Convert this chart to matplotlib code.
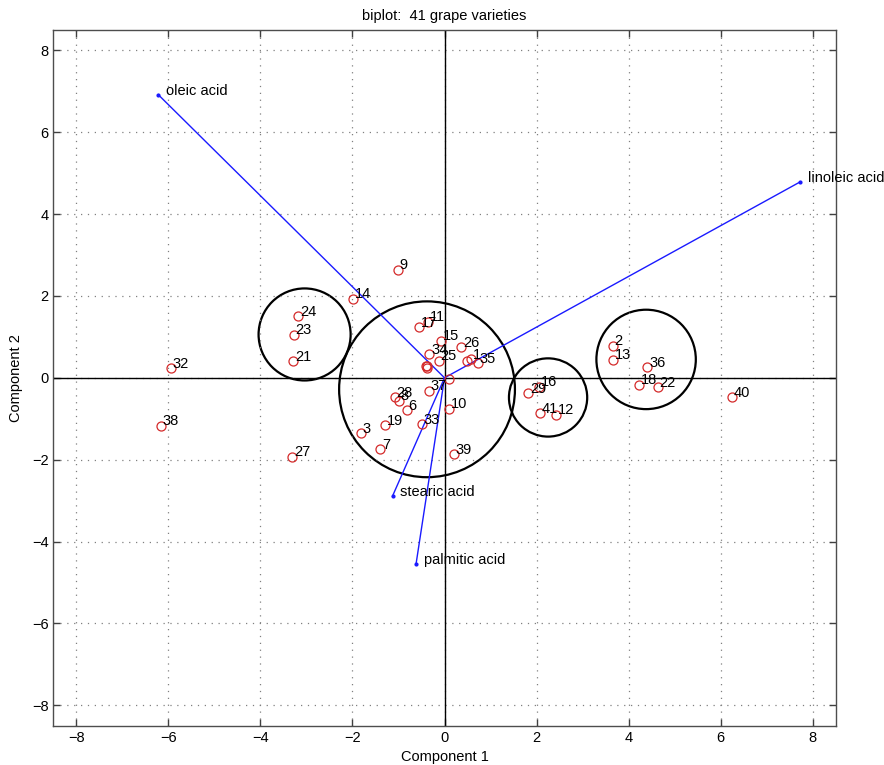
"""
Biplot of the first two principal components for 41 grape varieties,
with the four fatty acid loadings drawn as vectors from the origin.
"""

import matplotlib

matplotlib.use("Agg")

import matplotlib.pyplot as plt
from matplotlib.patches import Ellipse


# ---------------------------------------------------------------------
# Data
# ---------------------------------------------------------------------

# variety scores, varieties 1..41
score_x = [
    0.58, 3.66, -1.82, 0.48, -0.39, -0.82, -1.40, -0.99, -1.02, 0.10,
    -0.35, 2.42, 3.67, -1.98, -0.08, 2.06, -0.55, 4.22, -1.29, 0.10,
    -3.29, 4.64, -3.27, -3.18, -0.13, 0.36, -3.31, -1.08, 1.82, -0.40,
    -0.38, -5.95, -0.50, -0.33, 0.73, 4.41, -0.34, -6.17, 0.21, 6.25,
    2.08,
]
score_y = [
    0.46, 0.79, -1.36, 0.40, 0.30, -0.79, -1.74, -0.56, 2.64, -0.75,
    1.37, -0.90, 0.44, 1.93, 0.91, -0.22, 1.23, -0.17, -1.16, -0.04,
    0.40, -0.23, 1.05, 1.50, 0.42, 0.75, -1.93, -0.47, -0.37, 0.28,
    0.25, 0.24, -1.14, 0.58, 0.36, 0.26, -0.31, -1.17, -1.86, -0.47,
    -0.86,
]
# labels as they show in the picture (some are not visible there)
variety_labels = [
    "1", "2", "3", "", "", "6", "7", "8", "9", "10",
    "11", "12", "13", "14", "15", "16", "17", "18", "19", "",
    "21", "22", "23", "24", "25", "26", "27", "28", "29", "",
    "", "32", "33", "34", "35", "36", "37", "38", "39", "40",
    "41",
]

# loading vectors
acid_names = ["palmitic acid", "stearic acid", "oleic acid", "linoleic acid"]
acid_x = [-0.62, -1.13, -6.22, 7.73]
acid_y = [-4.56, -2.89, 6.92, 4.79]

# hand-drawn groupings: centre (data) and radius (in x units)
group_cx = [-3.04, -0.38, 2.25, 4.38]
group_cy = [1.06, -0.28, -0.48, 0.45]
group_r = [1.00, 1.91, 0.85, 1.08]


# ---------------------------------------------------------------------
# Figure
# ---------------------------------------------------------------------

plt.rcParams["font.family"] = ["Liberation Sans", "DejaVu Sans"]
plt.rcParams["font.size"] = 10

fig = plt.figure(figsize=(8.84, 7.65), dpi=100)
ax = fig.add_axes([0.0603, 0.0514, 0.8851, 0.9094])

x_min, x_max = -8.5, 8.5
y_min, y_max = -8.5, 8.5
ax.set_xlim(x_min, x_max)
ax.set_ylim(y_min, y_max)

ticks = [-8, -6, -4, -2, 0, 2, 4, 6, 8]
ax.set_xticks(ticks)
ax.set_yticks(ticks)
ax.grid(True, color="0.5", linestyle=(0, (1, 4.5)), linewidth=0.9)
ax.tick_params(direction="in", length=5, width=1, top=True, right=True,
               labelsize=10.5, color="0.25")
for spine in ax.spines.values():
    spine.set_color("0.3")
    spine.set_linewidth(1)

# axis lines through the origin
ax.axhline(0, color="black", linewidth=1)
ax.axvline(0, color="black", linewidth=1)

# loading vectors
for name, vx, vy in zip(acid_names, acid_x, acid_y):
    ax.plot([0, vx], [0, vy], color="#1a1aff", linewidth=1)
    ax.plot(vx, vy, marker="o", markersize=2, color="#1a1aff")
    ax.annotate(name, (vx, vy), xytext=(5.5, 0), textcoords="offset points",
                ha="left", va="baseline", fontsize=10.5)

# variety scores
ax.plot(score_x, score_y, linestyle="none", marker="o", markersize=6.5,
        markerfacecolor="none", markeredgecolor="#d42a2a",
        markeredgewidth=0.9)
for label, sx, sy in zip(variety_labels, score_x, score_y):
    if label:
        ax.annotate(label, (sx, sy), xytext=(1.2, 0.3),
                    textcoords="offset points", ha="left", va="baseline",
                    fontsize=10.5)

# group circles: round on screen, so scale the y radius by the aspect
bbox = ax.get_window_extent()
px_per_x = bbox.width / (x_max - x_min)
px_per_y = bbox.height / (y_max - y_min)
for cx, cy, r in zip(group_cx, group_cy, group_r):
    ry = r * px_per_x / px_per_y
    ax.add_patch(Ellipse((cx, cy), 2 * r, 2 * ry, fill=False,
                         edgecolor="black", linewidth=1.6))

ax.set_title("biplot:  41 grape varieties", fontsize=10.5, pad=7)
ax.set_xlabel("Component 1", fontsize=10.5, labelpad=4)
ax.set_ylabel("Component 2", fontsize=10.5, labelpad=6)

fig.savefig("out.png", dpi=100)
